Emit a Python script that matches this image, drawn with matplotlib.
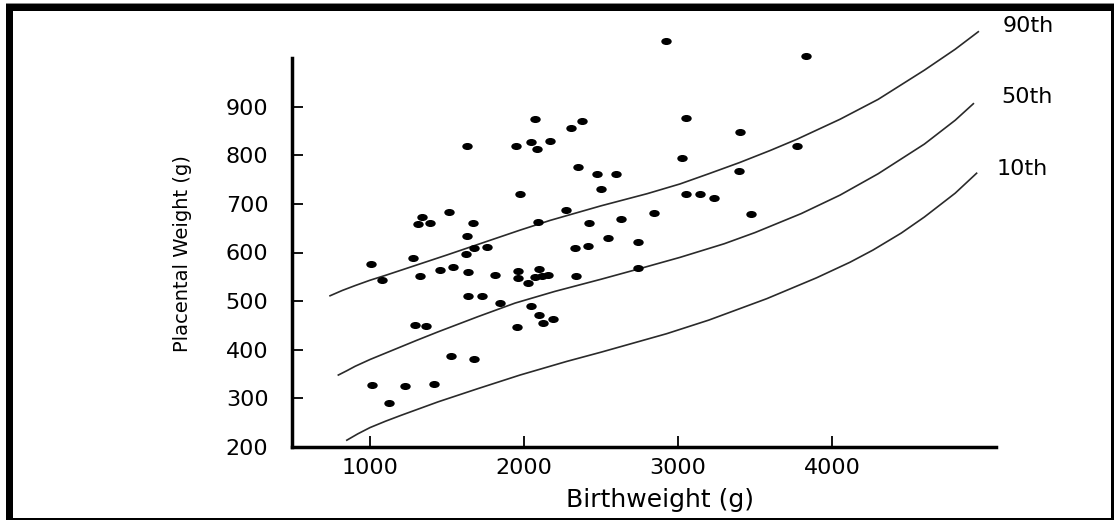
import matplotlib
matplotlib.use("Agg")
import matplotlib.pyplot as plt
from matplotlib.path import Path
from matplotlib.transforms import Affine2D
from matplotlib.patches import Rectangle

# ---- data ----
birthweight = [1632, 1945, 1975, 1515, 1335, 1314, 1392, 1669, 2920, 2071,
               2379, 2305, 2043, 2084, 2169, 2351, 2476, 2595, 2500, 2273,
               2091, 2425, 2630, 2844, 3829, 3050, 3400, 3024, 3773, 3396,
               3050, 3145, 3234, 3474, 1628, 1006, 1277, 1677, 1760, 1626,
               1078, 1323, 1453, 1537, 1639, 1814, 1959, 1959, 1639, 1725,
               1844, 1292, 1366, 1952, 1528, 1673, 1011, 1227, 1414, 1121,
               2329, 2418, 2545, 2742, 2742, 2336, 2097, 2024, 2071, 2115,
               2158, 2047, 2097, 2190, 2123]
placental = [819, 819, 720, 684, 673, 658, 661, 661, 1035, 875,
             871, 857, 828, 812, 830, 775, 761, 761, 731, 687,
             662, 661, 669, 681, 1004, 877, 848, 795, 819, 768,
             721, 721, 713, 679, 633, 577, 589, 609, 611, 596,
             544, 552, 563, 570, 559, 553, 561, 548, 510, 510,
             496, 451, 448, 446, 387, 380, 327, 325, 330, 290,
             610, 614, 629, 622, 569, 552, 566, 537, 549, 551,
             553, 490, 472, 464, 455]

p90_bw = [740, 820, 903, 1000, 1100, 1300, 1500, 1760, 1974, 2169, 2500, 2800,
          3013, 3200, 3400, 3600, 3773, 4052, 4300, 4600, 4800, 4950]
p90_pw = [511, 522, 532, 543, 553, 574, 595, 623, 646, 666, 696, 721,
          741, 762, 785, 810, 833, 874, 915, 975, 1018, 1054]

p50_bw = [794, 850, 903, 1000, 1100, 1300, 1443, 1700, 1942, 2200, 2500, 2742,
          3013, 3300, 3500, 3800, 4052, 4300, 4600, 4800, 4918]
p50_pw = [348, 357, 366, 380, 393, 419, 437, 468, 496, 520, 545, 566,
          590, 618, 641, 680, 718, 762, 823, 872, 906]

p10_bw = [849, 920, 1000, 1100, 1200, 1443, 1700, 1974, 2277, 2500, 2926,
          3200, 3576, 3900, 4117, 4266, 4450, 4600, 4800, 4939]
p10_pw = [214, 227, 240, 253, 265, 293, 320, 348, 376, 395, 433,
          461, 505, 548, 580, 605, 640, 673, 722, 763]

curve_labels = ["90th", "50th", "10th"]
xticks = [1000, 2000, 3000, 4000]
yticks = [200, 300, 400, 500, 600, 700, 800, 900]

plt.rcParams['font.family'] = ['DejaVu Sans']

fig = plt.figure(figsize=(11.14, 5.2), dpi=100)
fig.patch.set_facecolor('white')
ax = fig.add_axes([292/1114, 1-447/520, (996-292)/1114, (447-58)/520])

ax.set_xlim(493, 5065)
ax.set_ylim(200, 1000)

line_kw = dict(color='#2a2a2a', lw=1.2, clip_on=False, solid_joinstyle='round')
ax.plot(p90_bw, p90_pw, **line_kw)
ax.plot(p50_bw, p50_pw, **line_kw)
ax.plot(p10_bw, p10_pw, **line_kw)

ell = Path.unit_circle().transformed(Affine2D().scale(1.6, 1.0))
ax.plot(birthweight, placental, linestyle='none', marker=ell, ms=6.5,
        color='black', clip_on=False)

label_pos = [(5105, 1066), (5100, 920), (5068, 772)]
for lab, (lx, ly) in zip(curve_labels, label_pos):
    ax.text(lx, ly, lab, fontsize=16, ha='left', va='center', clip_on=False)

for s in ['top', 'right']:
    ax.spines[s].set_visible(False)
for s in ['left', 'bottom']:
    ax.spines[s].set_linewidth(2.5)
    ax.spines[s].set_color('black')

ax.set_xticks(xticks)
ax.set_yticks(yticks)
ax.tick_params(axis='both', direction='in', length=8, width=1.3, labelsize=16)
ax.tick_params(axis='y', pad=17)
ax.tick_params(axis='x', pad=8)

fig.text(182/1114, 1-254/520, "Placental Weight (g)", rotation=90,
         ha='center', va='center', fontsize=14)
fig.text(660/1114, 1-500/520, "Birthweight (g)", ha='center', va='center',
         fontsize=18)

# black frame around the picture
W, H = 1114.0, 520.0
frame = [
    (6, 0, 6.7, 516),      # left
    (6, 509, 1108, 7),     # top
    (1111, 0, 3, 516),     # right
    (6, 0, 1108, 2.5),     # bottom
]
for (x0, y0, w, h) in frame:
    fig.patches.append(Rectangle((x0/W, y0/H), w/W, h/H, transform=fig.transFigure,
                                 facecolor='black', edgecolor='none', zorder=10))
fig.patches.append(Rectangle((6/W, 516/H), 1108/W, 1.2/H, transform=fig.transFigure,
                             facecolor='#888888', edgecolor='none', zorder=10))

fig.savefig("out.png", dpi=100)
